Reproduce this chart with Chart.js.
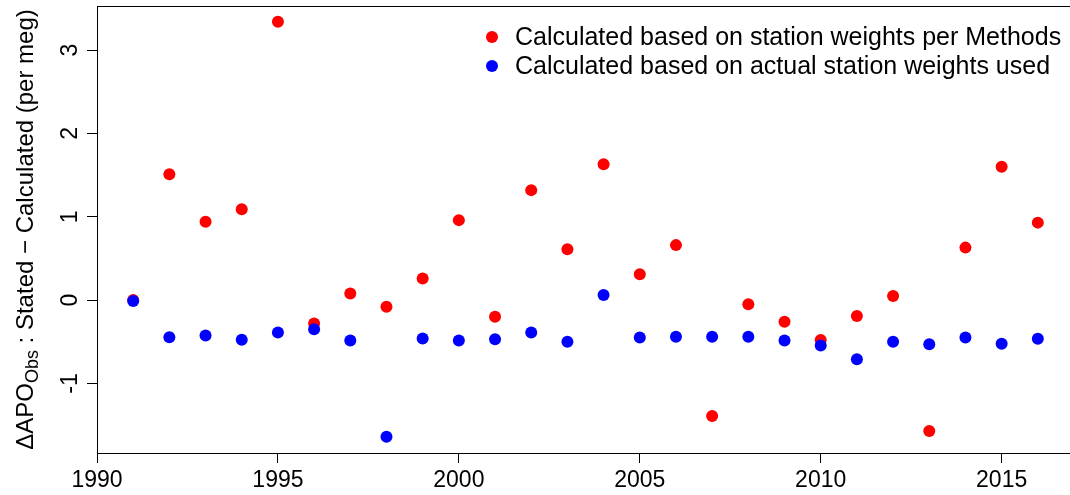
<!DOCTYPE html>
<html>
<head>
<meta charset="utf-8">
<script src="https://cdn.jsdelivr.net/npm/chart.js@4/dist/chart.umd.min.js"></script>
<style>
    html, body { margin: 0; padding: 0; background: #fff; overflow: hidden; }
    #wrap { width: 1080px; height: 495px; }
</style>
</head>
<body>
<div id="wrap"><canvas id="chart" width="1080" height="495"></canvas></div>
<script>
    const years = [1991, 1992, 1993, 1994, 1995, 1996, 1997, 1998, 1999, 2000, 2001, 2002, 2003,
        2004, 2005, 2006, 2007, 2008, 2009, 2010, 2011, 2012, 2013, 2014, 2015, 2016];
    const methodsValues = [0.0, 1.51, 0.94, 1.09, 3.34, -0.28, 0.08, -0.08, 0.26, 0.96, -0.20, 1.32, 0.61,
        1.63, 0.31, 0.66, -1.39, -0.05, -0.26, -0.48, -0.19, 0.05, -1.57, 0.63, 1.60, 0.93];
    const actualValues = [-0.01, -0.445, -0.425, -0.477, -0.39, -0.35, -0.485, -1.64, -0.46, -0.485, -0.47, -0.39, -0.50,
        0.06, -0.45, -0.44, -0.44, -0.44, -0.485, -0.545, -0.71, -0.50, -0.53, -0.45, -0.525, -0.465];
    const xTicks = [1990, 1995, 2000, 2005, 2010, 2015];
    const yTicks = [-1, 0, 1, 2, 3];
    const legendLabels = ['Calculated based on station weights per Methods', 'Calculated based on actual station weights used'];

    const FONT = '"Liberation Sans", Arial, sans-serif';

    // R-style extras: full box, rotated y labels, y title with subscript, legend
    const rStylePlugin = {
        id: 'rStyle',
        afterDraw(chart) {
            const ctx = chart.ctx;
            const area = chart.chartArea;
            const yScale = chart.scales.y;
            ctx.save();

            // box
            ctx.strokeStyle = '#000';
            ctx.lineWidth = 1;
            ctx.strokeRect(Math.round(area.left) + 0.5, Math.round(area.top) + 0.5,
                Math.round(area.right - area.left), Math.round(area.bottom - area.top));

            // y tick labels, rotated like R's las=0
            ctx.fillStyle = '#000';
            ctx.font = '23px ' + FONT;
            ctx.textAlign = 'center';
            ctx.textBaseline = 'alphabetic';
            yTicks.forEach(v => {
                const py = yScale.getPixelForValue(v);
                ctx.save();
                ctx.translate(77, py);
                ctx.rotate(-Math.PI / 2);
                ctx.fillText(String(v), 0, 0);
                ctx.restore();
            });

            // y axis title with subscript
            const parts = [
                { text: '\u0394APO', size: 24, shift: 0 },
                { text: 'Obs', size: 18, shift: 5 },
                { text: ' : Stated \u2212 Calculated (per meg)', size: 24, shift: 0 }
            ];
            let total = 0;
            parts.forEach(p => {
                ctx.font = p.size + 'px ' + FONT;
                p.w = ctx.measureText(p.text).width;
                total += p.w;
            });
            const midY = (area.top + area.bottom) / 2;
            ctx.save();
            ctx.translate(33, midY);
            ctx.rotate(-Math.PI / 2);
            ctx.textAlign = 'left';
            let cx = -total / 2;
            parts.forEach(p => {
                ctx.font = p.size + 'px ' + FONT;
                ctx.fillText(p.text, cx, p.shift);
                cx += p.w;
            });
            ctx.restore();

            // legend
            const colors = chart.data.datasets.map(d => d.backgroundColor);
            ctx.font = '25px ' + FONT;
            ctx.textAlign = 'left';
            ctx.textBaseline = 'middle';
            legendLabels.forEach((label, i) => {
                const ly = 37 + i * 29;
                ctx.beginPath();
                ctx.fillStyle = colors[i];
                ctx.arc(492, ly, 6, 0, Math.PI * 2);
                ctx.fill();
                ctx.fillStyle = '#000';
                ctx.fillText(label, 515, ly + 1);
            });

            ctx.restore();
        }
    };

    const ctx = document.getElementById('chart').getContext('2d');
    new Chart(ctx, {
        type: 'scatter',
        data: {
            datasets: [{
                label: legendLabels[0],
                data: years.map((yr, i) => ({ x: yr, y: methodsValues[i] })),
                backgroundColor: '#ff0000',
                borderWidth: 0,
                pointRadius: 6,
                order: 2
            }, {
                label: legendLabels[1],
                data: years.map((yr, i) => ({ x: yr, y: actualValues[i] })),
                backgroundColor: '#0000ff',
                borderWidth: 0,
                pointRadius: 6,
                order: 1
            }]
        },
        options: {
            responsive: false,
            animation: false,
            layout: { padding: { top: 6, right: 6, left: 0, bottom: 0 } },
            plugins: {
                legend: { display: false },
                tooltip: { enabled: false }
            },
            scales: {
                x: {
                    type: 'linear',
                    min: 1990,
                    max: 2017,
                    afterBuildTicks: scale => { scale.ticks = xTicks.map(v => ({ value: v })); },
                    afterFit: scale => { scale.height = 42; },
                    border: { display: false },
                    grid: { drawOnChartArea: false, color: '#000', tickLength: 10, lineWidth: 1 },
                    ticks: {
                        color: '#000',
                        font: { family: FONT, size: 23 },
                        padding: 4,
                        maxRotation: 0,
                        autoSkip: false,
                        callback: value => String(value)
                    }
                },
                y: {
                    type: 'linear',
                    min: -1.835,
                    max: 3.53,
                    afterBuildTicks: scale => { scale.ticks = yTicks.map(v => ({ value: v })); },
                    afterFit: scale => { scale.width = 97; },
                    border: { display: false },
                    grid: { drawOnChartArea: false, color: '#000', tickLength: 10, lineWidth: 1 },
                    ticks: { display: false }
                }
            }
        },
        plugins: [rStylePlugin]
    });
</script>
</body>
</html>
